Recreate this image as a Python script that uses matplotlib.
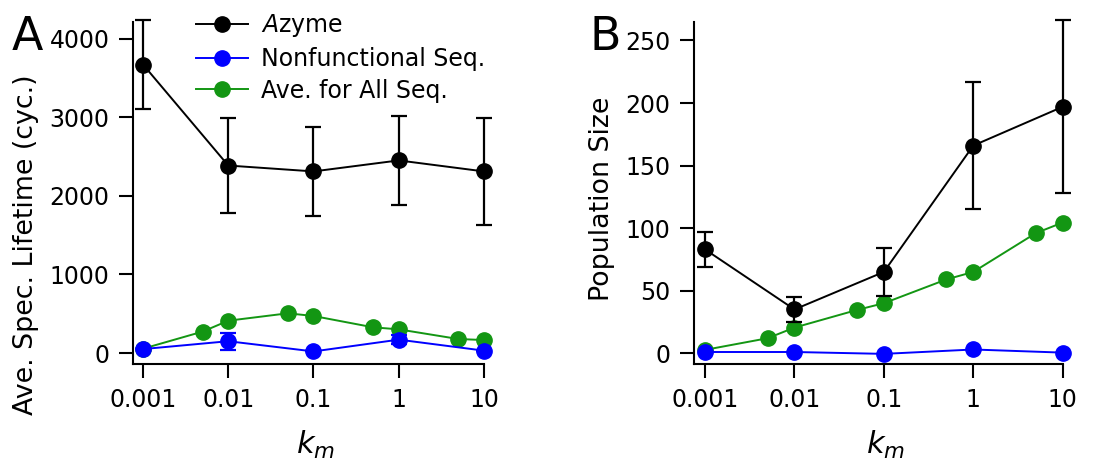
import matplotlib
matplotlib.use("Agg")
import matplotlib.pyplot as plt
from matplotlib.lines import Line2D

plt.rcParams['font.family'] = ['DejaVu Sans']
plt.rcParams['mathtext.fontset'] = 'dejavusans'

# ---- data ----
km_main = [0.001, 0.01, 0.1, 1, 10]
km_all = [0.001, 0.005, 0.01, 0.05, 0.1, 0.5, 1, 5, 10]

# Panel A: average species lifetime (cycles)
A_azyme = [3670, 2385, 2310, 2450, 2310]
A_azyme_err = [560, 600, 565, 565, 685]
A_nonfunc = [50, 150, 20, 170, 30]
A_nonfunc_err = [0, 110, 0, 60, 0]
A_all = [55, 272, 411, 505, 471, 327, 301, 178, 165]

# Panel B: population size
B_azyme = [83, 35, 65, 166, 197]
B_azyme_err = [14, 10, 19, 51, 69]
B_nonfunc = [1, 1, -0.5, 3, 0.5]
B_all = [2.7, 12, 20.5, 34.6, 40, 59, 65, 96, 104.5]

x_ticks = [0.001, 0.01, 0.1, 1, 10]
x_ticklabels = ['0.001', '0.01', '0.1', '1', '10']
A_yticks = [0, 1000, 2000, 3000, 4000]
B_yticks = [0, 50, 100, 150, 200, 250]

legend_labels = ['$\\mathit{A}$zyme', 'Nonfunctional Seq.', 'Ave. for All Seq.']

BLACK = '#000000'
BLUE = '#0000ff'
GREEN = '#139613'

fig = plt.figure(figsize=(10.94, 4.62), dpi=100)
axA = fig.add_axes([0.1216, 0.2121, 0.4424 - 0.1216, 0.9524 - 0.2121])
axB = fig.add_axes([0.6344, 0.2121, 0.9714 - 0.6344, 0.953 - 0.2121])

ms = 11
lw = 1.4
FS = 17


def style(ax, xlim, ylim, yticks):
    ax.set_xscale('log')
    ax.set_xlim(*xlim)
    ax.set_ylim(*ylim)
    ax.set_xticks(x_ticks)
    ax.set_xticklabels(x_ticklabels)
    ax.minorticks_off()
    ax.set_yticks(yticks)
    for s in ['top', 'right']:
        ax.spines[s].set_visible(False)
    for s in ['left', 'bottom']:
        ax.spines[s].set_linewidth(1.5)
    ax.tick_params(axis='both', which='major', length=10, width=1.5,
                   labelsize=FS, pad=7)
    ax.set_xlabel('$k_m$', fontsize=22)
    ax.xaxis.label.set_va('center')


# Panel A
axA.errorbar(km_main, A_azyme, yerr=A_azyme_err, color=BLACK, marker='o',
             ms=ms, lw=lw, elinewidth=1.6, capsize=6, capthick=1.6,
             clip_on=False, zorder=3)
axA.errorbar(km_main, A_nonfunc, yerr=A_nonfunc_err, color=BLUE, marker='o',
             ms=ms, lw=lw, elinewidth=1.6, capsize=6, capthick=1.6,
             clip_on=False, zorder=4)
axA.plot(km_all, A_all, color=GREEN, marker='o', ms=ms, lw=lw,
         clip_on=False, zorder=2)
style(axA, (10 ** -3.117, 10), (-140, 4211), A_yticks)
axA.set_ylabel('Ave. Spec. Lifetime (cyc.)', fontsize=19.4)
axA.yaxis.label.set_va('center')
axA.yaxis.set_label_coords(-0.305, 0.348)
axA.xaxis.set_label_coords(0.52, -0.237)

handles = [Line2D([], [], color=c, marker='o', ms=ms, lw=lw)
           for c in (BLACK, BLUE, GREEN)]
leg = fig.legend(handles, legend_labels, loc='upper left',
                 bbox_to_anchor=(0.16, 1.02), frameon=False, fontsize=FS,
                 handlelength=2.2, handletextpad=0.55, labelspacing=0.33)

# Panel B
axB.errorbar(km_main, B_azyme, yerr=B_azyme_err, color=BLACK, marker='o',
             ms=ms, lw=lw, elinewidth=1.6, capsize=6, capthick=1.6,
             clip_on=False, zorder=3)
axB.plot(km_main, B_nonfunc, color=BLUE, marker='o', ms=ms, lw=lw,
         clip_on=False, zorder=4)
axB.plot(km_all, B_all, color=GREEN, marker='o', ms=ms, lw=lw,
         clip_on=False, zorder=2)
style(axB, (10 ** -3.123, 10), (-8.6, 265), B_yticks)
axB.set_ylabel('Population Size', fontsize=19.4)
axB.yaxis.label.set_va('center')
axB.yaxis.set_label_coords(-0.25, 0.482)
axB.xaxis.set_label_coords(0.52, -0.237)

fig.text(0.011, 0.9675, 'A', fontsize=33, va='top', ha='left')
fig.text(0.539, 0.9675, 'B', fontsize=33, va='top', ha='left')

fig.savefig('out.png', dpi=100)
